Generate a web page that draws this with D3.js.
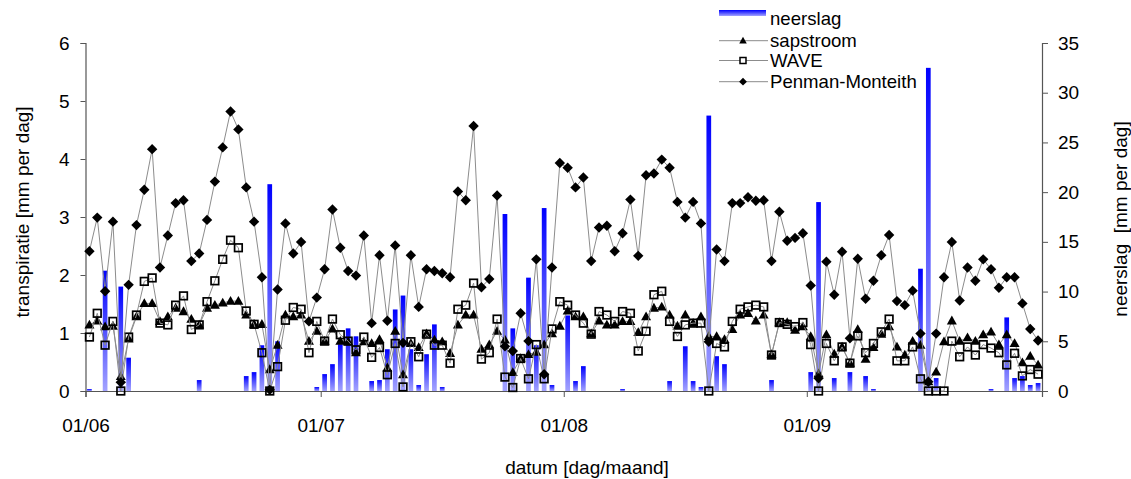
<!DOCTYPE html>
<html>
<head>
<meta charset="utf-8">
<script src="https://cdn.jsdelivr.net/npm/d3@7"></script>
<style>
  body { margin: 0; background: #fff; }
  text { font-family: "Liberation Sans", Arial, sans-serif; fill: #000; }
</style>
</head>
<body>
<svg id="chart" width="1131" height="479"></svg>
<script>
// daily values 1 June .. 30 September
var startDate = Date.UTC(2003, 5, 1);
var endDate = Date.UTC(2003, 9, 1);

var neerslag = [
  0.2,0,12.1,0,10.5,3.35,0,0,0,0,
  0,0,0,0,1.1,0,0,0,0,0,
  1.5,1.9,4.6,20.8,5.0,0,0,0,0,0.4,
  1.7,2.7,4.7,6.3,5.5,0,1.0,1.1,4.2,8.2,
  9.6,4.2,0.6,3.7,6.7,0.4,0,0,0,0,
  0,0,0,17.8,6.3,0,11.4,4.6,18.4,0.6,
  0,7.6,1.0,2.5,0,0,0,0,0.2,0,
  0,0,0,0,1.0,0,4.5,1.0,0.4,27.7,
  3.5,2.7,0,0,0,0,0,1.1,0,0,
  0,0,1.9,19.0,0,1.3,0,1.9,0,1.5,
  0.2,0,0,0,0,0,12.3,32.5,1.3,0,
  0,0,0,0,0,0.2,0,7.4,1.3,1.5,
  0.6,0.8
];

var sapstroom = [
  1.14,1.21,1.11,1.12,0.25,0.90,1.28,1.51,1.51,1.20,
  1.28,1.43,1.37,1.24,1.14,1.43,1.48,1.52,1.55,1.55,
  1.31,1.15,1.15,0.37,0.79,1.31,1.28,1.31,0.86,1.03,
  0.86,1.07,0.86,0.85,0.66,0.85,0.82,0.89,0.40,1.03,
  0.28,0.82,0.75,0.99,0.88,0.85,0.65,1.14,1.31,1.31,
  0.72,0.80,1.03,0.88,0.32,0.56,0.63,0.67,0.80,0.99,
  1.12,1.38,1.28,1.28,0.99,1.21,1.14,1.14,1.20,1.20,
  1.01,1.28,1.43,1.45,1.31,1.12,1.31,1.17,1.28,0.94,
  0.94,0.89,1.06,1.31,1.34,1.21,1.31,0.63,1.18,1.18,
  1.05,1.11,0.94,0.30,0.97,0.64,0.76,0.48,1.06,0.55,
  0.75,0.98,1.11,0.76,0.62,0.86,0.79,0.16,0.33,0.85,
  1.21,0.86,0.92,0.86,0.97,1.02,0.80,0.97,0.82,0.49,
  0.60,0.45
];

var wave = [
  0.93,1.34,0.79,1.20,0,0.93,1.31,1.89,1.95,1.17,
  1.14,1.48,1.64,1.06,1.14,1.54,1.90,2.27,2.60,2.47,
  1.38,1.15,0.66,0,0.42,1.22,1.44,1.41,0.66,1.20,
  0.86,1.24,0.97,0.86,0.71,0.93,0.58,0.75,0.28,0.82,
  0.07,0.85,0.59,0.98,0.79,0.79,0.48,1.41,1.48,1.86,
  0.55,0.66,1.24,0.24,0.06,0.56,0.21,0.80,0.21,1.07,
  1.54,1.48,1.31,1.17,0.98,1.37,1.31,1.20,1.37,1.34,
  0.69,1.03,1.66,1.72,1.20,0.94,1.14,1.17,1.17,0,
  0.82,0.76,1.20,1.41,1.45,1.48,1.45,0.62,1.18,1.15,
  1.11,1.18,0.80,0,0.82,0.52,0.76,0.48,0.95,0.66,
  0.82,1.02,1.24,0.52,0.52,0.76,0.21,0,0,0,
  0.86,0.59,0.76,0.62,0.80,0.74,0.66,0.45,0.65,0.26,
  0.37,0.29
];

var penmanMonteith = [
  2.41,2.99,1.72,2.92,0.15,1.83,2.86,3.47,4.17,2.13,
  2.68,3.24,3.29,2.24,2.37,2.95,3.61,4.20,4.82,4.51,
  3.51,2.92,1.96,0.02,1.75,2.89,2.37,2.57,1.20,1.61,
  2.10,3.13,2.47,2.07,1.99,2.68,1.17,2.34,1.21,2.51,
  0.83,2.34,1.45,2.10,2.07,2.03,1.96,3.44,3.29,4.57,
  1.79,1.93,3.37,0.77,0.69,1.34,0.86,2.27,0.29,2.13,
  3.93,3.85,3.51,3.68,2.24,2.82,2.85,2.41,2.72,3.30,
  2.33,3.72,3.75,3.99,3.85,3.26,2.99,3.26,2.89,0.85,
  2.44,2.24,3.24,3.24,3.34,3.28,3.29,2.24,3.09,2.59,
  2.64,2.72,1.82,0.22,2.23,1.66,2.40,0.91,2.28,1.59,
  1.90,2.34,2.69,1.55,1.48,1.73,0.99,0.16,0.99,1.96,
  2.57,1.56,2.13,1.90,2.27,2.10,1.78,1.96,1.96,1.51,
  1.07,0.87
];

var leftTicks = [0, 1, 2, 3, 4, 5, 6];
var rightTicks = [0, 5, 10, 15, 20, 25, 30, 35];
var legendLabels = ["neerslag", "sapstroom", "WAVE", "Penman-Monteith"];

var svg = d3.select("#chart");
var margin = {top: 43, right: 89, bottom: 88, left: 85.5};
var width = 1131 - margin.left - margin.right,
    height = 479 - margin.top - margin.bottom;

var days = neerslag.map(function(d, i) { return d3.utcDay.offset(new Date(startDate), i); });

var x = d3.scaleUtc()
  .domain([new Date(startDate), new Date(endDate)])
  .range([margin.left, margin.left + width]);
var yL = d3.scaleLinear().domain([0, 6]).range([margin.top + height, margin.top]);
var yR = d3.scaleLinear().domain([0, 35]).range([margin.top + height, margin.top]);

var dayW = x(days[1]) - x(days[0]);
function cx(i) { return x(days[i]) + dayW / 2; }

// gradient for the rain bars
var defs = svg.append("defs");
var grad = defs.append("linearGradient")
  .attr("id", "rainGrad")
  .attr("x1", 0).attr("y1", 0).attr("x2", 0).attr("y2", 1);
grad.append("stop").attr("offset", "0%").attr("stop-color", "#0000ff");
grad.append("stop").attr("offset", "100%").attr("stop-color", "#a3a3ff");

// bars (secondary axis)
var barW = dayW * 0.6;
var barG = svg.append("g");
neerslag.forEach(function(d, i) {
  if (d <= 0) return;
  barG.append("rect")
    .attr("x", cx(i) - barW / 2)
    .attr("y", yR(d))
    .attr("width", barW)
    .attr("height", yR(0) - yR(d))
    .attr("fill", "url(#rainGrad)");
});

// axes
var axisCol = "#555";
var axL = svg.append("g")
  .attr("transform", "translate(" + margin.left + ",0)")
  .call(d3.axisLeft(yL).tickValues(leftTicks).tickSize(5).tickPadding(11).tickFormat(d3.format("d")));
var axR = svg.append("g")
  .attr("transform", "translate(" + (margin.left + width) + ",0)")
  .call(d3.axisRight(yR).tickValues(rightTicks).tickSize(6).tickPadding(10).tickFormat(d3.format("d")));
var axB = svg.append("g")
  .attr("transform", "translate(0," + (margin.top + height) + ")")
  .call(d3.axisBottom(x).ticks(d3.utcMonth.every(1)).tickSize(6).tickPadding(22)
    .tickFormat(d3.utcFormat("%d/%m")));

[axL, axR, axB].forEach(function(a) {
  a.select(".domain").attr("stroke", axisCol).attr("stroke-width", 1.2);
  a.selectAll(".tick line").attr("stroke", axisCol);
  a.selectAll("text").style("font-size", "19px").attr("fill", "#000");
});
axB.selectAll(".tick").filter(function(d) { return +d >= endDate; }).select("text").remove();

// lines with markers
var line = function(vals) {
  return d3.line()
    .x(function(d, i) { return cx(i); })
    .y(function(d) { return yL(d); })(vals);
};

var triPath = "M0,-5.2L5,3.6L-5,3.6Z";
var diaPath = "M0,-5.2L5.2,0L0,5.2L-5.2,0Z";

function drawSeries(vals, kind) {
  var g = svg.append("g");
  g.append("path")
    .attr("d", line(vals))
    .attr("fill", "none")
    .attr("stroke", "#8c8c8c")
    .attr("stroke-width", 1);
  vals.forEach(function(v, i) {
    if (kind === "square") {
      g.append("rect")
        .attr("x", cx(i) - 3.8).attr("y", yL(v) - 3.8)
        .attr("width", 7.6).attr("height", 7.6)
        .attr("fill", "none").attr("stroke", "#000").attr("stroke-width", 1.7);
    } else {
      g.append("path")
        .attr("d", kind === "tri" ? triPath : diaPath)
        .attr("transform", "translate(" + cx(i) + "," + yL(v) + ")")
        .attr("fill", "#000");
    }
  });
}
drawSeries(sapstroom, "tri");
drawSeries(wave, "square");
drawSeries(penmanMonteith, "dia");

// axis titles
svg.append("text")
  .attr("transform", "translate(29,212) rotate(-90)")
  .attr("text-anchor", "middle")
  .style("font-size", "19px")
  .text("transpiratie [mm per dag]");
svg.append("text")
  .attr("transform", "translate(1127,219) rotate(-90)")
  .attr("text-anchor", "middle")
  .style("font-size", "19px")
  .text("neerslag  [mm per dag]")
  .style("white-space", "pre");
svg.append("text")
  .attr("x", 587)
  .attr("y", 474)
  .attr("text-anchor", "middle")
  .style("font-size", "19px")
  .text("datum [dag/maand]");

// legend
var lg = svg.append("g");
lg.append("rect").attr("x", 719).attr("y", 10).attr("width", 47).attr("height", 6)
  .attr("fill", "url(#rainGrad)");
var legY = [19, 40.7, 60.5, 81.7];
legendLabels.forEach(function(t, i) {
  lg.append("text").attr("x", 770).attr("y", legY[i] + 6)
    .style("font-size", "18.6px").text(t);
  if (i === 0) return;
  lg.append("line").attr("x1", 719).attr("x2", 768)
    .attr("y1", legY[i]).attr("y2", legY[i])
    .attr("stroke", "#8c8c8c").attr("stroke-width", 1);
  if (i === 2) {
    lg.append("rect").attr("x", 740).attr("y", legY[i] - 3).attr("width", 6).attr("height", 6)
      .attr("fill", "#fff").attr("stroke", "#000").attr("stroke-width", 1.5);
  } else {
    lg.append("path").attr("d", i === 1 ? triPath : diaPath)
      .attr("transform", "translate(743," + legY[i] + ") scale(0.75)")
      .attr("fill", "#000");
  }
});
</script>
</body>
</html>
